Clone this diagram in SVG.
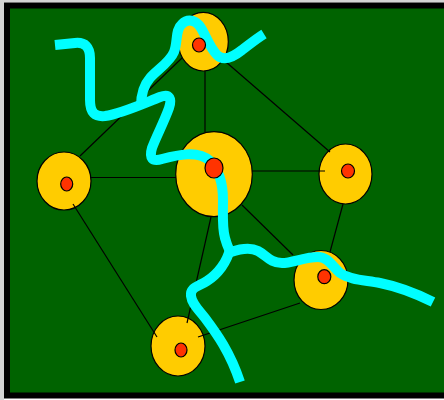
<svg xmlns="http://www.w3.org/2000/svg" width="444" height="400" viewBox="0 0 444 400">
<style>
.node{fill:#ffcc00;stroke:#000;stroke-width:1.2}
.core{fill:#ff3300;stroke:#000;stroke-width:1.2}
.edge{stroke:#000;stroke-width:1.2;fill:none}
.river{stroke:#00ffff;stroke-width:10;fill:none;stroke-linecap:butt;stroke-linejoin:round}
</style>
<rect x="0" y="0" width="444" height="400" fill="#ffffff"/>
<rect x="0" y="0" width="444" height="2.5" fill="#d4d4d4"/>
<rect x="0" y="0" width="4" height="400" fill="#d4d4d4"/>
<rect id="frame" x="7" y="5.5" width="440" height="390" fill="#006300" stroke="#000" stroke-width="6"/>
<g id="node-top"><ellipse class="node" cx="203.3" cy="41.7" rx="25" ry="29.3"/></g>
<g id="node-left"><ellipse class="node" cx="64" cy="181" rx="27" ry="29"/></g>
<g id="node-center"><ellipse class="node" cx="214" cy="174.2" rx="38.3" ry="42.5"/></g>
<g id="node-right"><ellipse class="node" cx="345.5" cy="174" rx="26.5" ry="30"/></g>
<g id="node-lowerright"><ellipse class="node" cx="321" cy="280" rx="27" ry="29.5"/></g>
<g id="node-bottom"><ellipse class="node" cx="178" cy="346" rx="27" ry="30"/></g>
<g id="connectors">
<line class="edge" x1="80" y1="156" x2="182" y2="58"/>
<line class="edge" x1="205" y1="71" x2="205" y2="132"/>
<line class="edge" x1="226" y1="62" x2="330" y2="152"/>
<line class="edge" x1="91" y1="177.5" x2="176" y2="177.5"/>
<line class="edge" x1="252" y1="171" x2="325" y2="171"/>
<line class="edge" x1="73" y1="204" x2="157" y2="337"/>
<line class="edge" x1="211" y1="217" x2="187" y2="323"/>
<line class="edge" x1="242" y1="205" x2="293" y2="255"/>
<line class="edge" x1="343" y1="204" x2="330" y2="252"/>
<line class="edge" x1="300" y1="303" x2="198" y2="337"/>
</g>
<g id="river">
<path class="river" d="M55,45 L75,43 C85,42 90,47 90,58 L90,100 C90,113 95,117 105,116 C120,114 140,105 160,97 C170,93 172,99 169,108 C164,122 156,137 152,148 C149,158 152,162 162,159 C177,155 198,150 210,161 C220,171 223,185 223,200 C223,215 222,228 225,238 C227,245 228,249 231,252 C240,249 250,247 258,251 C266,255 270,263 282,263 C292,263 305,257 318,257 C328,257 332,266 340,273 C350,280 365,280 380,283 C400,287 415,293 433,302"/>
<path class="river" d="M230,249 C227,262 218,274 207,281 C198,287 190,287 191,296 C192,304 198,309 205,318 C217,334 230,352 240,382"/>
<path class="river" d="M141,106 C141,95 143,86 150,78 C157,70 170,62 174,52 C178,42 175,30 182,24 C188,18 196,20 201,28 C206,36 210,48 217,55 C223,61 232,58 242,50 C250,44 256,39 264,34"/>
</g>
<g id="node-top-core"><ellipse class="core" cx="199" cy="45" rx="6.5" ry="7"/></g>
<g id="node-left-core"><ellipse class="core" cx="66.7" cy="184" rx="6" ry="7"/></g>
<g id="node-center-core"><ellipse class="core" cx="214" cy="168" rx="9" ry="10"/></g>
<g id="node-right-core"><ellipse class="core" cx="348" cy="171" rx="6.5" ry="7"/></g>
<g id="node-lowerright-core"><ellipse class="core" cx="324.3" cy="276.7" rx="6.5" ry="7"/></g>
<g id="node-bottom-core"><ellipse class="core" cx="181" cy="350" rx="6" ry="7"/></g>
</svg>
